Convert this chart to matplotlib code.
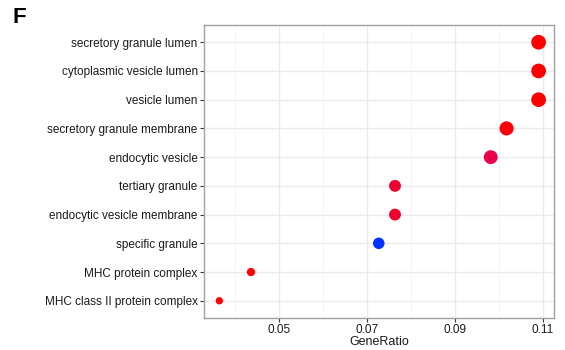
import numpy as np
import matplotlib.pyplot as plt
from matplotlib.colors import LinearSegmentedColormap

plt.rcParams['font.family'] = ['Liberation Sans', 'DejaVu Sans']

# GO cellular component terms (top to bottom)
terms = ['secretory granule lumen', 'cytoplasmic vesicle lumen', 'vesicle lumen',
         'secretory granule membrane', 'endocytic vesicle', 'tertiary granule',
         'endocytic vesicle membrane', 'specific granule', 'MHC protein complex',
         'MHC class II protein complex']
gene_ratio = [0.1091, 0.1091, 0.1091, 0.1018, 0.0982, 0.0764, 0.0764, 0.0727, 0.0436, 0.0364]
counts = [30, 30, 30, 28, 27, 21, 21, 20, 12, 10]
# relative position on the p.adjust colour scale (0 = lowest, 1 = highest)
p_adjust = [0.0, 0.0, 0.0, 0.02, 0.15, 0.1, 0.1, 1.0, 0.0, 0.0]

cmap = LinearSegmentedColormap.from_list(
    'rb', [(0, '#FF0000'), (0.15, '#E8004A'), (0.5, '#B8009F'), (1, '#0033FF')])

fig = plt.figure(figsize=(5.65, 3.5), dpi=100)
ax = fig.add_axes([0.361, 0.0914, 0.6195, 0.8372])

ypos = np.arange(len(terms))[::-1] + 1
diam = -2.7 + 3.18 * np.sqrt(np.array(counts))  # pixel diameter
sizes = (diam * 0.72) ** 2

ax.scatter(gene_ratio, ypos, s=sizes, c=cmap(np.array(p_adjust)), zorder=3, linewidths=0)

ax.set_xlim(0.0329, 0.1126)
ax.set_ylim(0.4, len(terms) + 0.6)
ax.set_xticks([0.05, 0.07, 0.09, 0.11])
ax.set_xticklabels(['0.05', '0.07', '0.09', '0.11'])
ax.set_xticks([0.04, 0.06, 0.08, 0.10], minor=True)
ax.set_yticks(ypos)
ax.set_yticklabels(terms)

ax.grid(True, which='major', color='#EBEBEB', linewidth=1.0, zorder=0)
ax.grid(True, which='minor', axis='x', color='#F2F2F2', linewidth=0.6, zorder=0)
ax.set_axisbelow(True)
ax.tick_params(which='major', length=3, width=0.8, color='#333333',
               labelsize=8.5, labelcolor='#1A1A1A', pad=1.5)
ax.tick_params(which='minor', length=0)
for sp in ax.spines.values():
    sp.set_color('#A0A0A0')
    sp.set_linewidth(1.0)

ax.set_xlabel('GeneRatio', fontsize=9, color='#1A1A1A', labelpad=0)
fig.text(0.022, 0.935, 'F', fontsize=16, fontweight='bold')

fig.savefig('out.png', dpi=100)
